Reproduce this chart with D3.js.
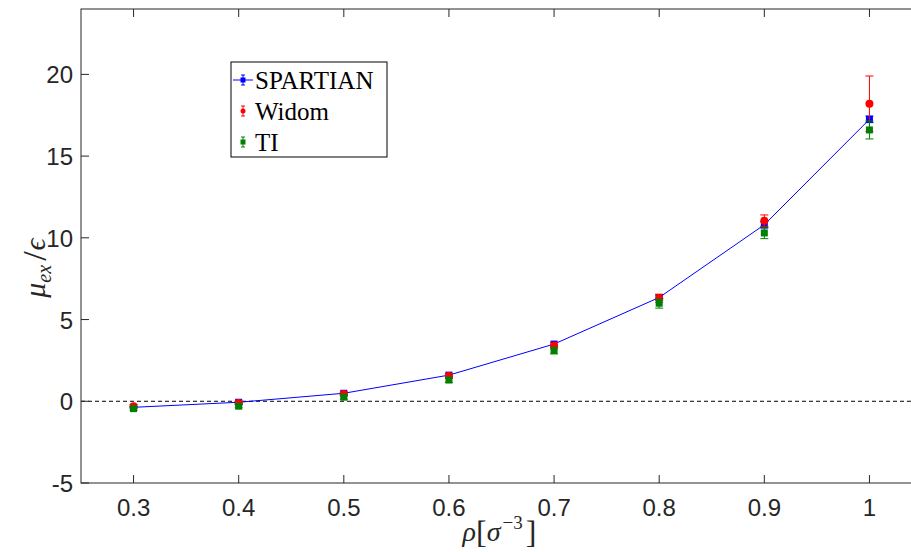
<!DOCTYPE html>
<html>
<head>
<meta charset="utf-8">
<script src="https://cdn.jsdelivr.net/npm/d3@7"></script>
<style>
  body { margin: 0; background: #fff; }
  svg { display: block; }
</style>
</head>
<body>
<svg id="chart" width="911" height="552"></svg>
<script>
const rho = [0.3, 0.4, 0.5, 0.6, 0.7, 0.8, 0.9, 1.0];
const spartian = [-0.37, -0.06, 0.49, 1.6, 3.5, 6.35, 10.8, 17.25];
const spartianErr = [0.05, 0.05, 0.05, 0.08, 0.1, 0.15, 0.2, 0.2];
const widom = [-0.3, -0.1, 0.45, 1.55, 3.4, 6.3, 11.05, 18.2];
const widomErr = [0.1, 0.1, 0.12, 0.15, 0.2, 0.25, 0.35, 1.7];
const ti = [-0.45, -0.3, 0.25, 1.3, 3.1, 6.0, 10.3, 16.6];
const tiErr = [0.1, 0.1, 0.12, 0.15, 0.2, 0.3, 0.35, 0.55];
const xTicks = [0.3, 0.4, 0.5, 0.6, 0.7, 0.8, 0.9, 1];
const yTicks = [-5, 0, 5, 10, 15, 20];

const svg = d3.select("#chart");
const plotLeft = 81, plotTop = 9, plotBottom = 483;

const x = d3.scaleLinear().domain([0.25, 1.05]).range([plotLeft, plotLeft + 841]);
const y = d3.scaleLinear().domain([-5, 24]).range([plotBottom, plotTop]);

const axisColor = "#262626";
const tickFont = "Liberation Sans, Arial, sans-serif";
const serif = "Liberation Serif, Times New Roman, serif";

// zero line
svg.append("line")
  .attr("x1", x(0.25)).attr("x2", x(1.05))
  .attr("y1", y(0)).attr("y2", y(0))
  .attr("stroke", "#000").attr("stroke-width", 1)
  .attr("stroke-dasharray", "4,3");

// box
svg.append("rect")
  .attr("x", x(0.25)).attr("y", y(24))
  .attr("width", x(1.05) - x(0.25)).attr("height", y(-5) - y(24))
  .attr("fill", "none").attr("stroke", axisColor).attr("stroke-width", 1);

// ticks
const tickLen = 8;
xTicks.forEach(t => {
  svg.append("line").attr("x1", x(t)).attr("x2", x(t))
    .attr("y1", plotBottom).attr("y2", plotBottom - tickLen).attr("stroke", axisColor);
  svg.append("line").attr("x1", x(t)).attr("x2", x(t))
    .attr("y1", plotTop).attr("y2", plotTop + tickLen).attr("stroke", axisColor);
  svg.append("text").attr("x", x(t)).attr("y", plotBottom + 33)
    .attr("text-anchor", "middle").attr("font-family", tickFont)
    .attr("font-size", 24).attr("fill", axisColor).text(t);
});
yTicks.forEach(t => {
  svg.append("line").attr("x1", plotLeft).attr("x2", plotLeft + tickLen)
    .attr("y1", y(t)).attr("y2", y(t)).attr("stroke", axisColor);
  svg.append("text").attr("x", plotLeft - 8).attr("y", y(t) + 9)
    .attr("text-anchor", "end").attr("font-family", tickFont)
    .attr("font-size", 24).attr("fill", axisColor).text(t);
});

// axis labels
const xl = svg.append("text").attr("x", x(0.65) - 2).attr("y", 541)
  .attr("text-anchor", "middle").attr("font-family", serif)
  .attr("font-size", 28).attr("fill", axisColor);
xl.append("tspan").attr("font-style", "italic").text("ρ");
xl.append("tspan").attr("font-size", 32).attr("dy", 2).text("[");
xl.append("tspan").attr("font-style", "italic").attr("dy", -2).text("σ");
xl.append("tspan").attr("font-size", 19).attr("dy", -12).attr("dx", 2).text("−3");
xl.append("tspan").attr("font-size", 32).attr("dy", 14).attr("dx", 3).text("]");

const yl = svg.append("text")
  .attr("transform", "translate(45,268) rotate(-90)")
  .attr("text-anchor", "middle").attr("font-family", serif)
  .attr("font-size", 30).attr("fill", axisColor);
yl.append("tspan").attr("font-style", "italic").text("μ");
yl.append("tspan").attr("font-style", "italic").attr("font-size", 20).attr("dy", 6).text("ex");
yl.append("tspan").attr("font-size", 34).attr("dy", -5).attr("dx", 4).text("/");
yl.append("tspan").attr("font-style", "italic").attr("dy", -1).attr("dx", 1).text("ϵ");

// error bars helper
function errorBars(vals, errs, color) {
  const g = svg.append("g").attr("stroke", color).attr("stroke-width", 1);
  rho.forEach((r, i) => {
    const cx = x(r), lo = y(vals[i] - errs[i]), hi = y(vals[i] + errs[i]);
    g.append("line").attr("x1", cx).attr("x2", cx).attr("y1", lo).attr("y2", hi);
    g.append("line").attr("x1", cx - 4).attr("x2", cx + 4).attr("y1", lo).attr("y2", lo);
    g.append("line").attr("x1", cx - 4).attr("x2", cx + 4).attr("y1", hi).attr("y2", hi);
  });
}

// SPARTIAN
errorBars(spartian, spartianErr, "#0000ff");
svg.append("path")
  .datum(rho.map((r, i) => [r, spartian[i]]))
  .attr("d", d3.line().x(d => x(d[0])).y(d => y(d[1])))
  .attr("fill", "none").attr("stroke", "#0000ff").attr("stroke-width", 1);
svg.append("g").selectAll("rect").data(rho).join("rect")
  .attr("x", d => x(d) - 3.5).attr("y", (d, i) => y(spartian[i]) - 3.5)
  .attr("width", 7).attr("height", 7).attr("fill", "#0000ff");

// Widom
errorBars(widom, widomErr, "#ff0000");
svg.append("g").selectAll("circle").data(rho).join("circle")
  .attr("cx", d => x(d)).attr("cy", (d, i) => y(widom[i]))
  .attr("r", 4).attr("fill", "#ff0000");

// TI
errorBars(ti, tiErr, "#008000");
svg.append("g").selectAll("rect").data(rho).join("rect")
  .attr("x", d => x(d) - 3.5).attr("y", (d, i) => y(ti[i]) - 3.5)
  .attr("width", 7).attr("height", 7).attr("fill", "#008000");

// legend
const lg = svg.append("g");
lg.append("rect").attr("x", 231).attr("y", 62).attr("width", 156).attr("height", 95)
  .attr("fill", "#fff").attr("stroke", "#000").attr("stroke-width", 1);
const entries = [
  { name: "SPARTIAN", color: "#0000ff", shape: "line" },
  { name: "Widom", color: "#ff0000", shape: "circle" },
  { name: "TI", color: "#008000", shape: "square" },
];
entries.forEach((e, i) => {
  const cy = 80 + i * 31;
  const cx = 243;
  if (e.shape === "line") {
    lg.append("line").attr("x1", 233).attr("x2", 253).attr("y1", cy).attr("y2", cy)
      .attr("stroke", e.color);
  }
  lg.append("line").attr("x1", cx).attr("x2", cx).attr("y1", cy - 5).attr("y2", cy + 5)
    .attr("stroke", e.color);
  lg.append("line").attr("x1", cx - 2).attr("x2", cx + 2).attr("y1", cy - 5).attr("y2", cy - 5)
    .attr("stroke", e.color);
  lg.append("line").attr("x1", cx - 2).attr("x2", cx + 2).attr("y1", cy + 5).attr("y2", cy + 5)
    .attr("stroke", e.color);
  if (e.shape === "circle") {
    lg.append("circle").attr("cx", cx).attr("cy", cy).attr("r", 2.5).attr("fill", e.color);
  } else {
    lg.append("rect").attr("x", cx - 2.5).attr("y", cy - 2.5).attr("width", 5).attr("height", 5)
      .attr("fill", e.color);
  }
  lg.append("text").attr("x", 255).attr("y", cy + 9)
    .attr("font-family", serif).attr("font-size", 25).attr("fill", "#000").text(e.name);
});
</script>
</body>
</html>
